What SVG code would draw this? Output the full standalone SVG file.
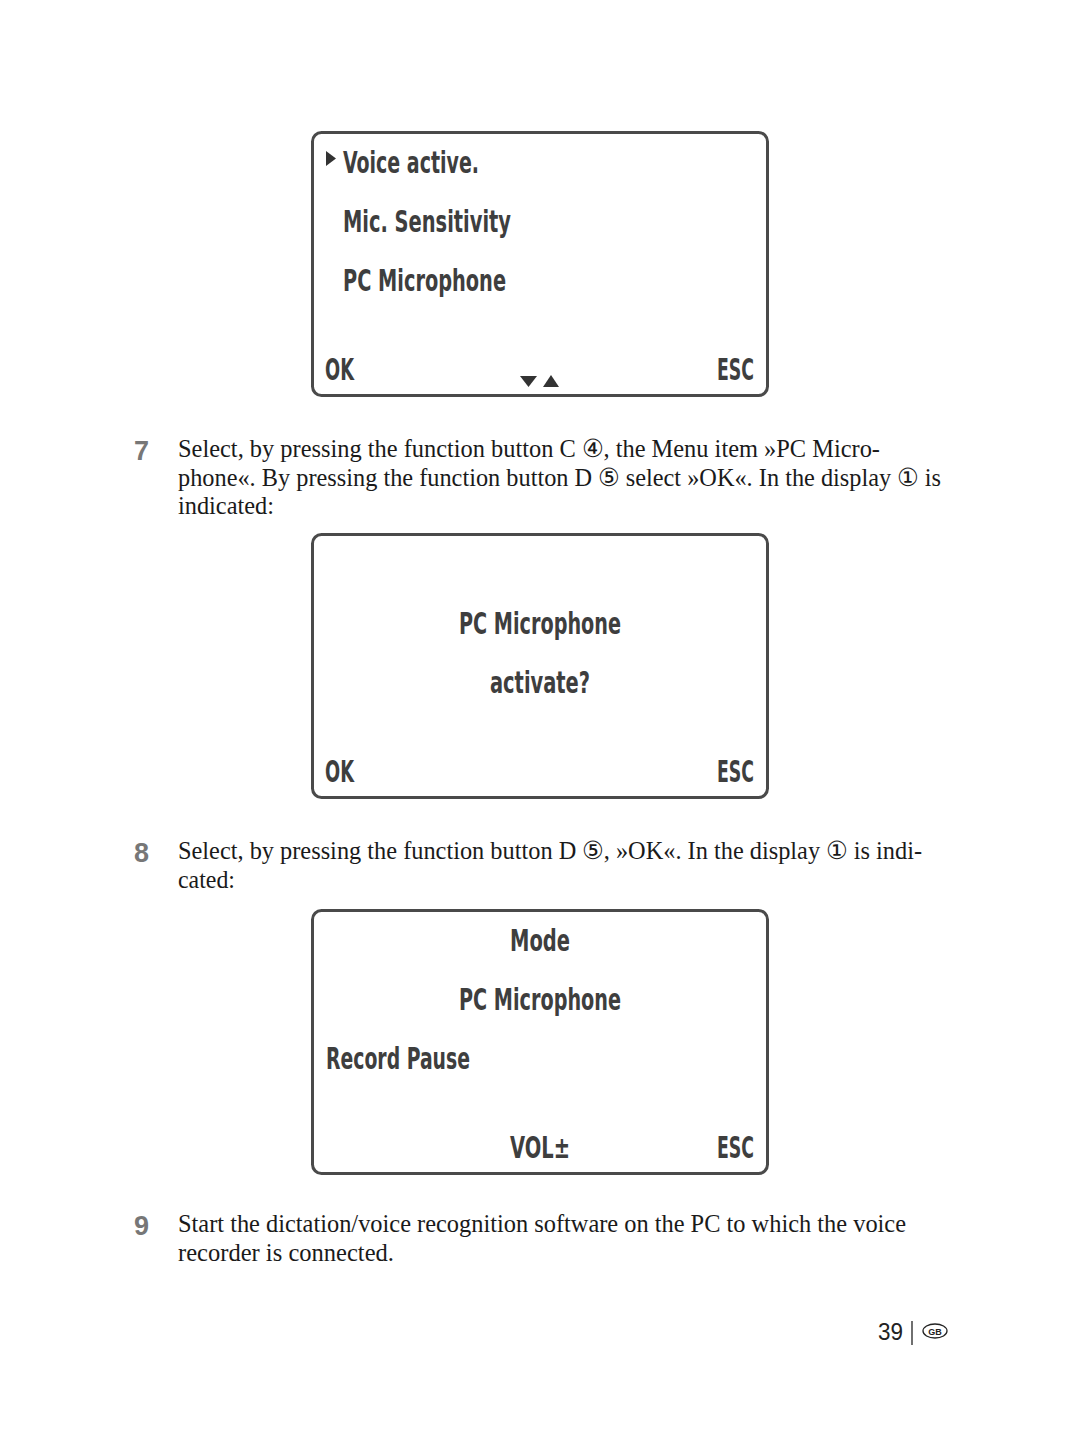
<svg xmlns="http://www.w3.org/2000/svg" width="1080" height="1450" viewBox="0 0 1080 1450">
<style>
.box{fill:#fff;stroke:#4a4a4a;stroke-width:3}
.d{font-family:"Liberation Sans Narrow","DejaVu Sans Condensed","Liberation Sans",sans-serif;font-weight:bold;font-size:31px;fill:#3e3e3e}
.b{font-family:"Liberation Serif","DejaVu Serif",serif;font-size:25px;fill:#1a1a1a}
.n{font-family:"Liberation Sans","DejaVu Sans",sans-serif;font-weight:bold;font-size:27px;fill:#777}
.tri{fill:#333}
</style>
<rect width="1080" height="1450" fill="#fff"/>
<g id="display1">
<rect class="box" x="312.5" y="132.5" width="455" height="263" rx="9"/>
<polygon class="tri" points="326,151 336,158.5 326,166"/>
<text class="d" x="343" y="173" textLength="136" lengthAdjust="spacingAndGlyphs">Voice active.</text>
<text class="d" x="343" y="232" textLength="168" lengthAdjust="spacingAndGlyphs">Mic. Sensitivity</text>
<text class="d" x="343" y="291" textLength="163" lengthAdjust="spacingAndGlyphs">PC Microphone</text>
<text class="d" x="325" y="380" textLength="29" lengthAdjust="spacingAndGlyphs">OK</text>
<text class="d" x="717" y="380" textLength="37" lengthAdjust="spacingAndGlyphs">ESC</text>
<polygon class="tri" points="520,376 537,376 528.5,387"/>
<polygon class="tri" points="543,387 559,387 551,375"/>
</g>
<g id="step7">
<text class="n" x="134" y="460">7</text>
<text class="b" x="178" y="457" textLength="702" lengthAdjust="spacingAndGlyphs">Select, by pressing the function button C ④, the Menu item »PC Micro-</text>
<text class="b" x="178" y="486" textLength="763" lengthAdjust="spacingAndGlyphs">phone«. By pressing the function button D ⑤ select »OK«. In the display ① is</text>
<text class="b" x="178" y="514" textLength="96" lengthAdjust="spacingAndGlyphs">indicated:</text>
</g>
<g id="display2">
<rect class="box" x="312.5" y="534.5" width="455" height="263" rx="9"/>
<text class="d" x="540" y="634" text-anchor="middle" textLength="162" lengthAdjust="spacingAndGlyphs">PC Microphone</text>
<text class="d" x="540" y="693" text-anchor="middle" textLength="100" lengthAdjust="spacingAndGlyphs">activate?</text>
<text class="d" x="325" y="782" textLength="29" lengthAdjust="spacingAndGlyphs">OK</text>
<text class="d" x="717" y="782" textLength="37" lengthAdjust="spacingAndGlyphs">ESC</text>
</g>
<g id="step8">
<text class="n" x="134" y="862">8</text>
<text class="b" x="178" y="859" textLength="744" lengthAdjust="spacingAndGlyphs">Select, by pressing the function button D ⑤, »OK«. In the display ① is indi-</text>
<text class="b" x="178" y="888" textLength="57" lengthAdjust="spacingAndGlyphs">cated:</text>
</g>
<g id="display3">
<rect class="box" x="312.5" y="910.5" width="455" height="263" rx="9"/>
<text class="d" x="540" y="951" text-anchor="middle" textLength="60" lengthAdjust="spacingAndGlyphs">Mode</text>
<text class="d" x="540" y="1010" text-anchor="middle" textLength="162" lengthAdjust="spacingAndGlyphs">PC Microphone</text>
<text class="d" x="326" y="1069" textLength="144" lengthAdjust="spacingAndGlyphs">Record Pause</text>
<text class="d" x="510" y="1158" textLength="60" lengthAdjust="spacingAndGlyphs">VOL±</text>
<text class="d" x="717" y="1158" textLength="37" lengthAdjust="spacingAndGlyphs">ESC</text>
</g>
<g id="step9">
<text class="n" x="134" y="1235">9</text>
<text class="b" x="178" y="1232" textLength="728" lengthAdjust="spacingAndGlyphs">Start the dictation/voice recognition software on the PC to which the voice</text>
<text class="b" x="178" y="1261" textLength="216" lengthAdjust="spacingAndGlyphs">recorder is connected.</text>
</g>
<g id="footer">
<text x="878" y="1340" font-family="Liberation Sans,sans-serif" font-size="23" fill="#222" textLength="25" lengthAdjust="spacingAndGlyphs">39</text>
<line x1="912" y1="1321" x2="912" y2="1345" stroke="#222" stroke-width="1.3"/>
<ellipse cx="935" cy="1331" rx="12" ry="7" fill="none" stroke="#222" stroke-width="1.3"/>
<text x="935" y="1334.5" text-anchor="middle" font-family="Liberation Sans,sans-serif" font-weight="bold" font-size="9" fill="#222">GB</text>
</g>
</svg>
